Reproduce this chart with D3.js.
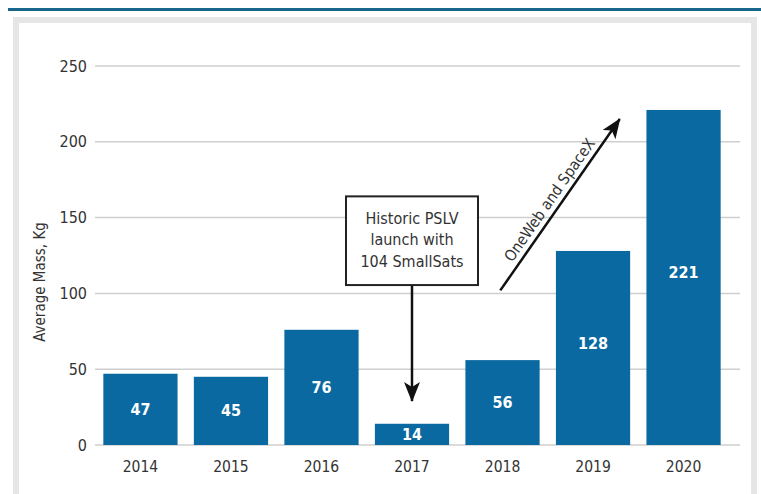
<!DOCTYPE html>
<html>
<head>
<meta charset="utf-8">
<script src="https://cdn.jsdelivr.net/npm/d3@7"></script>
<style>
  body { margin: 0; background: #fff; }
  svg { display: block; }
  text { font-family: "Liberation Sans Narrow", "DejaVu Sans Condensed", "Roboto Condensed", sans-serif; }
</style>
</head>
<body>
<div id="chart"></div>
<script>
// values
var years = ['2014', '2015', '2016', '2017', '2018', '2019', '2020'];
var avgMass = [47, 45, 76, 14, 56, 128, 221];
var yTicks = [0, 50, 100, 150, 200, 250];
var pslvNote = ['Historic PSLV', 'launch with', '104 SmallSats'];
var trendNote = 'OneWeb and SpaceX';

var width = 761, height = 494;

var svg = d3.select('#chart')
  .append('svg')
    .attr('width', width)
    .attr('height', height);

// header rule and grey frame
svg.append('line')
  .attr('x1', 8).attr('x2', width)
  .attr('y1', 9.5).attr('y2', 9.5)
  .attr('stroke', '#19668c')
  .attr('stroke-width', 3);

svg.append('rect')
  .attr('x', 16).attr('y', 20)
  .attr('width', 738).attr('height', 490)
  .attr('fill', '#fff')
  .attr('stroke', '#e6e6e6')
  .attr('stroke-width', 6);

var x = d3.scaleBand()
  .domain(years)
  .range([97, 727])
  .paddingInner(0.18)
  .paddingOuter(0.07);

var y = d3.scaleLinear()
  .domain([0, 250])
  .range([445, 66]);

// gridlines + tick labels
var grid = svg.append('g');
grid.selectAll('line')
  .data(yTicks)
  .enter().append('line')
    .attr('x1', 95).attr('x2', 740)
    .attr('y1', function(d) { return y(d); })
    .attr('y2', function(d) { return y(d); })
    .attr('stroke', '#cfcfcf')
    .attr('stroke-width', 1.5);

grid.selectAll('text')
  .data(yTicks)
  .enter().append('text')
    .attr('x', 87)
    .attr('y', function(d) { return y(d); })
    .attr('dy', '0.35em')
    .attr('text-anchor', 'end')
    .attr('font-size', 16)
    .attr('fill', '#333')
    .text(function(d) { return d; });

svg.append('text')
  .attr('transform', 'translate(45,282) rotate(-90)')
  .attr('text-anchor', 'middle')
  .attr('font-size', 15)
  .attr('fill', '#333')
  .text('Average Mass, Kg');

// bars
var bars = svg.append('g');
bars.selectAll('rect')
  .data(avgMass)
  .enter().append('rect')
    .attr('x', function(d, i) { return x(years[i]); })
    .attr('y', function(d) { return y(d); })
    .attr('width', x.bandwidth())
    .attr('height', function(d) { return y(0) - y(d); })
    .attr('fill', '#0a69a1');

bars.selectAll('text')
  .data(avgMass)
  .enter().append('text')
    .attr('x', function(d, i) { return x(years[i]) + x.bandwidth() / 2; })
    .attr('y', function(d) { return (y(d) + y(0)) / 2 - (d > 100 ? 5 : 0); })
    .attr('dy', '0.35em')
    .attr('text-anchor', 'middle')
    .attr('font-size', 16)
    .attr('font-weight', 'bold')
    .attr('fill', '#fff')
    .text(function(d) { return d; });

// x labels
svg.append('g').selectAll('text')
  .data(years)
  .enter().append('text')
    .attr('x', function(d) { return x(d) + x.bandwidth() / 2; })
    .attr('y', 467)
    .attr('dy', '0.35em')
    .attr('text-anchor', 'middle')
    .attr('font-size', 15.5)
    .attr('fill', '#333')
    .text(function(d) { return d; });

// arrowhead
svg.append('defs').append('marker')
  .attr('id', 'head')
  .attr('viewBox', '0 0 20 16')
  .attr('refX', 19).attr('refY', 8)
  .attr('markerWidth', 20).attr('markerHeight', 16)
  .attr('markerUnits', 'userSpaceOnUse')
  .attr('orient', 'auto')
  .append('path')
    .attr('d', 'M0,0 L20,8 L0,16 L5,8 Z')
    .attr('fill', '#111');

// PSLV annotation (box + down arrow over 2017)
var cx17 = x('2017') + x.bandwidth() / 2;
svg.append('line')
  .attr('x1', cx17).attr('x2', cx17)
  .attr('y1', y(105)).attr('y2', y(29))
  .attr('stroke', '#111')
  .attr('stroke-width', 2.5)
  .attr('marker-end', 'url(#head)');

svg.append('rect')
  .attr('x', cx17 - 66).attr('y', y(164))
  .attr('width', 132).attr('height', y(105.5) - y(164))
  .attr('fill', '#fff')
  .attr('stroke', '#222')
  .attr('stroke-width', 2);

svg.append('g').selectAll('text')
  .data(pslvNote)
  .enter().append('text')
    .attr('x', cx17)
    .attr('y', function(d, i) { return y(164) + 22 + i * 21.5; })
    .attr('dy', '0.35em')
    .attr('text-anchor', 'middle')
    .attr('font-size', 16)
    .attr('fill', '#333')
    .text(function(d) { return d; });

// OneWeb / SpaceX trend arrow
var ax1 = x('2018') + x.bandwidth() * 0.47, ay1 = y(102);
var ax2 = x('2019') + x.bandwidth() * 0.86, ay2 = y(215);
svg.append('line')
  .attr('x1', ax1).attr('y1', ay1)
  .attr('x2', ax2).attr('y2', ay2)
  .attr('stroke', '#111')
  .attr('stroke-width', 2.5)
  .attr('marker-end', 'url(#head)');

var ang = Math.atan2(ay2 - ay1, ax2 - ax1) * 180 / Math.PI;
var mx = ax1 + (ax2 - ax1) * 0.49, my = ay1 + (ay2 - ay1) * 0.49;
svg.append('text')
  .attr('transform', 'translate(' + mx + ',' + my + ') rotate(' + ang + ')')
  .attr('y', -6)
  .attr('text-anchor', 'middle')
  .attr('font-size', 15.5)
  .attr('fill', '#333')
  .text(trendNote);
</script>
</body>
</html>
